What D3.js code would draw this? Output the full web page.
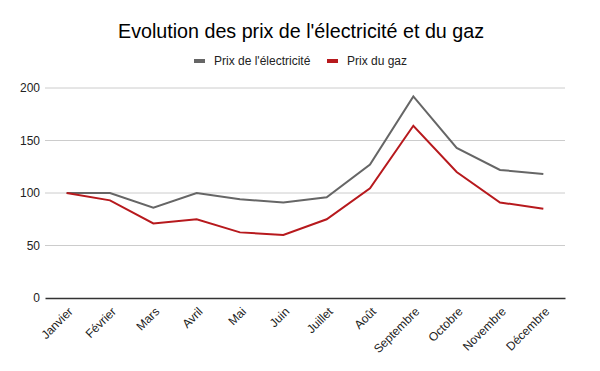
<!DOCTYPE html>
<html lang="fr">
<head>
  <meta charset="UTF-8">
  <script src="https://d3js.org/d3.v7.min.js"></script>
  <title>Evolution des prix</title>
  <style>
    body { margin: 0; background: #fff; }
    text { font-family: "Liberation Sans", Arial, sans-serif; }
  </style>
</head>
<body>
  <svg width="600" height="371"></svg>
  <script>
    // données
    var mois = ["Janvier", "Février", "Mars", "Avril", "Mai", "Juin", "Juillet", "Août", "Septembre", "Octobre", "Novembre", "Décembre"];
    var prixElec = [100, 100, 86, 100, 94, 91, 96, 127, 192, 143, 122, 118];
    var prixGaz = [100, 93, 71, 75, 62.5, 60, 75, 104.5, 164, 120, 91, 85];
    var yTicks = [0, 50, 100, 150, 200];

    var series = [
      {name: "Prix de l'électricité", values: prixElec, color: "#666666"},
      {name: "Prix du gaz", values: prixGaz, color: "#b7191d"}
    ];

    var svg = d3.select("svg");
    var marge = {top: 88, right: 35, bottom: 73, left: 45};
    var width = 600 - marge.left - marge.right;
    var height = 371 - marge.top - marge.bottom;

    svg.append("rect").attr("width", 600).attr("height", 371).attr("fill", "#fff");

    svg.append("text")
      .attr("x", 301).attr("y", 38)
      .attr("text-anchor", "middle")
      .attr("font-size", 19.7)
      .attr("fill", "#000")
      .text("Evolution des prix de l'électricité et du gaz");

    var g = svg.append("g").attr("transform", "translate(" + marge.left + "," + marge.top + ")");

    var x = d3.scalePoint().domain(mois).range([0, width]).padding(0.5);
    var y = d3.scaleLinear().domain([0, 200]).range([height, 0]);

    // grille
    g.selectAll(".grid")
      .data(yTicks.filter(function(d){ return d > 0; }))
      .enter().append("line")
      .attr("x1", 0).attr("x2", width)
      .attr("y1", function(d){ return y(d); })
      .attr("y2", function(d){ return y(d); })
      .attr("stroke", "#cccccc").attr("stroke-width", 1);

    // axe Y
    var yAxis = g.append("g").call(d3.axisLeft(y).tickValues(yTicks).tickSize(0).tickPadding(5));
    yAxis.select(".domain").remove();
    yAxis.selectAll("text").attr("font-size", 12).attr("fill", "#222")
      .style("font-family", "'Liberation Sans', Arial, sans-serif");

    // axe X
    var xAxis = g.append("g").attr("transform", "translate(0," + height + ")")
      .call(d3.axisBottom(x).tickSize(0).tickPadding(6));
    xAxis.select(".domain").attr("stroke", "#333").attr("stroke-width", 1.3);
    xAxis.selectAll("text")
      .attr("font-size", 12).attr("fill", "#222")
      .style("font-family", "'Liberation Sans', Arial, sans-serif")
      .attr("text-anchor", "end")
      .attr("dy", "0.6em")
      .attr("transform", "translate(-3,5) rotate(-45)");

    // lignes
    var line = d3.line()
      .x(function(d, i){ return x(mois[i]); })
      .y(function(d){ return y(d); });

    g.selectAll(".serie")
      .data(series)
      .enter().append("path")
      .attr("d", function(d){ return line(d.values); })
      .attr("fill", "none")
      .attr("stroke", function(d){ return d.color; })
      .attr("stroke-width", 2);

    // légende
    var legendX = [194, 327];
    var lg = svg.selectAll(".leg").data(series).enter().append("g")
      .attr("transform", function(d, i){ return "translate(" + legendX[i] + ",61)"; });
    lg.append("rect").attr("x", 0).attr("y", -2).attr("width", 11).attr("height", 4)
      .attr("fill", function(d){ return d.color; });
    lg.append("text").attr("x", 20).attr("y", 4)
      .attr("font-size", 12).attr("fill", "#222")
      .text(function(d){ return d.name; });
  </script>
</body>
</html>
